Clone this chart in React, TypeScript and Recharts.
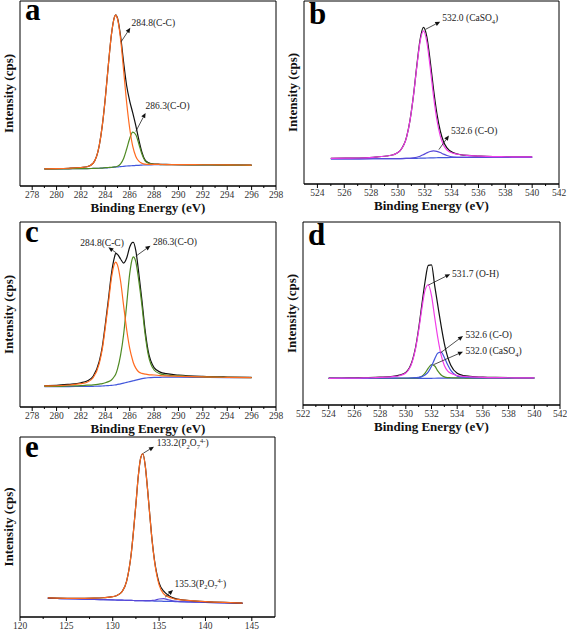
import React from "react";
import { LineChart, Line, XAxis, YAxis, ReferenceArea, ReferenceLine, ReferenceDot } from "recharts";

const SERIF = '"Liberation Serif", "DejaVu Serif", "Noto Serif", Tinos, serif';

// colours used by the fitted components
const BLACK = "#111111";
const ORANGE = "#ff6a1f";
const GREEN = "#4f8a23";
const BLUE = "#4257dc";
const VIOLET = "#5848d8";
const MAGENTA = "#f03ce8";

// ---- a: C 1s ----
const energyA = [279, 280, 281, 282, 282.5, 283, 283.5, 283.75, 284, 284.25, 284.5, 284.75, 284.85, 285, 285.25, 285.5, 285.75, 286, 286.25, 286.5, 286.75, 287, 287.25, 287.5, 288, 288.5, 289, 290, 292, 294, 296];
const bgA = [9.2, 9.2, 9.3, 9.4, 9.4, 9.5, 9.6, 9.7, 9.8, 9.9, 10.0, 10.2, 10.25, 10.3, 10.5, 10.6, 10.8, 10.9, 11.0, 11.1, 11.2, 11.3, 11.4, 11.4, 11.5, 11.5, 11.5, 11.5, 11.4, 11.3, 11.2];
const ccA = [9.3, 9.4, 9.6, 10.0, 10.4, 12.3, 21.8, 32.6, 47.6, 65.5, 81.8, 91.3, 92.4, 90.3, 79.5, 62.5, 45.0, 31.1, 21.4, 16.0, 13.4, 12.3, 11.8, 11.7, 11.7, 11.65, 11.6, 11.6, 11.5, 11.4, 11.3];
const coA = [9.2, 9.2, 9.3, 9.4, 9.4, 9.5, 9.6, 9.7, 9.9, 10.0, 10.1, 10.3, 10.4, 10.7, 12.0, 14.9, 20.0, 25.7, 29.1, 27.7, 22.7, 17.3, 13.7, 12.4, 11.7, 11.6, 11.55, 11.5, 11.4, 11.3, 11.2];
const sumA = [9.3, 9.4, 9.6, 10.0, 10.4, 12.3, 21.8, 32.6, 47.7, 65.6, 81.9, 91.4, 92.55, 90.7, 81.0, 66.8, 54.2, 45.9, 39.5, 32.6, 24.9, 18.3, 14.1, 12.7, 11.9, 11.75, 11.65, 11.6, 11.5, 11.4, 11.3];

// ---- b: O 1s ----
const energyB = [525, 526.1, 527.1, 528.15, 529.15, 529.65, 530.15, 530.65, 530.9, 531.15, 531.4, 531.65, 531.9, 532.15, 532.4, 532.65, 532.9, 533.15, 533.4, 533.65, 534.15, 534.65, 535.15, 536.15, 537.1, 538.1, 539, 540];
const bgB = [13.7, 13.7, 13.75, 13.8, 13.85, 13.85, 13.9, 13.95, 13.95, 14.0, 14.05, 14.1, 14.15, 14.2, 14.25, 14.3, 14.35, 14.4, 14.4, 14.45, 14.5, 14.55, 14.6, 14.6, 14.6, 14.6, 14.6, 14.6];
const caso4B = [14.0, 14.1, 14.2, 14.6, 15.3, 16.0, 18.1, 25.8, 34.8, 47.8, 63.7, 77.8, 83.7, 77.8, 63.9, 48.1, 35.1, 26.3, 21.2, 18.6, 16.7, 16.0, 15.6, 15.2, 15.0, 14.9, 14.85, 14.8];
const coB = [13.7, 13.7, 13.75, 13.8, 13.85, 13.85, 13.9, 14.0, 14.05, 14.25, 14.6, 15.2, 16.05, 17.0, 17.75, 18.1, 17.85, 17.2, 16.3, 15.55, 14.75, 14.6, 14.6, 14.6, 14.6, 14.6, 14.6, 14.6];
const sumB = [14.0, 14.1, 14.2, 14.6, 15.3, 16.0, 18.1, 25.85, 34.9, 48.0, 64.3, 78.9, 85.6, 80.6, 67.4, 51.9, 38.6, 29.1, 23.1, 19.7, 17.0, 16.1, 15.6, 15.2, 15.0, 14.9, 14.85, 14.8];

// ---- c: C 1s ----
const energyC = [279, 280, 281, 282, 282.5, 283, 283.5, 283.75, 284, 284.25, 284.5, 284.75, 284.85, 285, 285.25, 285.5, 285.75, 286, 286.25, 286.3, 286.5, 286.75, 287, 287.25, 287.5, 288, 288.5, 289, 290, 292, 294, 296];
const bgC = [11.0, 11.0, 11.05, 11.1, 11.15, 11.2, 11.3, 11.35, 11.5, 11.6, 11.7, 11.9, 12.0, 12.2, 12.5, 12.9, 13.3, 13.7, 14.1, 14.2, 14.5, 14.9, 15.3, 15.6, 15.8, 16.0, 16.05, 16.1, 16.1, 16.0, 15.9, 15.8];
const ccC = [11.4, 11.5, 11.9, 12.6, 13.4, 15.8, 23.5, 31.25, 43.1, 56.0, 69.6, 77.4, 78.3, 76.7, 68.1, 54.8, 41.9, 31.7, 25.0, 23.9, 21.0, 18.9, 18.15, 17.8, 17.5, 17.3, 17.0, 16.8, 16.6, 16.25, 16.05, 15.9];
const coC = [11.2, 11.2, 11.4, 11.6, 11.8, 12.0, 12.4, 12.65, 13.1, 13.7, 14.6, 16.6, 17.7, 20.6, 28.0, 39.2, 55.4, 72.1, 80.8, 81.2, 78.5, 68.0, 55.0, 40.0, 29.0, 20.0, 17.9, 17.3, 16.8, 16.3, 16.05, 15.9];
const sumC = [11.6, 11.7, 12.25, 13.1, 14.05, 16.6, 24.6, 32.55, 44.7, 58.1, 72.0, 81.0, 83.0, 82.5, 80.0, 77.8, 80.5, 86.5, 89.0, 89.0, 84.5, 72.0, 57.85, 42.2, 30.7, 21.3, 18.85, 18.0, 17.3, 16.55, 16.2, 16.0];

// ---- d: O 1s ----
const energyD = [524, 525, 526, 527, 528, 529, 529.5, 530, 530.5, 530.75, 531, 531.25, 531.5, 531.75, 532, 532.25, 532.5, 532.75, 533, 533.25, 533.5, 534, 534.5, 535, 536, 537, 538, 539, 540];
const bgD = [14.5, 14.5, 14.5, 14.5, 14.5, 14.5, 14.5, 14.5, 14.5, 14.5, 14.5, 14.52, 14.55, 14.58, 14.6, 14.63, 14.65, 14.68, 14.7, 14.7, 14.7, 14.7, 14.7, 14.7, 14.7, 14.7, 14.7, 14.7, 14.7];
const ohD = [14.6, 14.7, 14.7, 14.85, 15.05, 15.5, 16.0, 17.5, 23.6, 30.4, 40.7, 52.7, 62.8, 65.7, 59.8, 47.8, 36.35, 27.25, 21.6, 18.7, 17.3, 16.1, 15.6, 15.4, 15.1, 14.95, 14.9, 14.85, 14.8];
const coD = [14.55, 14.55, 14.6, 14.6, 14.65, 14.7, 14.75, 14.75, 14.85, 14.95, 15.1, 15.5, 16.35, 18.1, 21.2, 25.2, 28.4, 28.85, 26.0, 22.1, 18.9, 15.8, 15.15, 15.0, 14.85, 14.8, 14.75, 14.75, 14.75];
const caso4D = [14.5, 14.5, 14.5, 14.5, 14.5, 14.5, 14.55, 14.6, 14.7, 14.8, 15.0, 15.7, 17.4, 20.1, 22.1, 21.3, 18.5, 16.4, 15.4, 15.0, 14.9, 14.8, 14.75, 14.7, 14.7, 14.7, 14.7, 14.7, 14.7];
const sumD = [14.65, 14.75, 14.8, 14.95, 15.2, 15.7, 16.3, 17.85, 24.15, 31.15, 41.8, 54.9, 67.5, 76.3, 76.6, 65.1, 54.05, 43.2, 33.6, 26.4, 21.7, 17.3, 16.1, 15.7, 15.25, 15.05, 14.95, 14.85, 14.8];

// ---- e: P 2p ----
const energyE = [123, 124, 126, 128, 129, 130, 130.5, 131, 131.5, 132, 132.25, 132.5, 132.75, 133, 133.25, 133.5, 133.75, 134, 134.25, 134.5, 135, 135.5, 136, 136.5, 137, 138, 139, 140, 142, 144];
const bgE = [10.4, 10.27, 10.0, 9.73, 9.6, 9.47, 9.4, 9.33, 9.27, 9.2, 9.17, 9.13, 9.1, 9.07, 9.03, 9.0, 8.97, 8.93, 8.9, 8.87, 8.8, 8.73, 8.67, 8.6, 8.53, 8.4, 8.27, 8.13, 7.87, 7.6];
const p133E = [10.6, 10.5, 10.4, 10.5, 10.7, 11.3, 12.1, 14.1, 19.9, 35.4, 48.3, 62.7, 77.9, 88.0, 90.7, 84.3, 71.2, 56.4, 42.1, 31.2, 17.8, 12.9, 11.2, 10.3, 9.8, 9.26, 8.87, 8.56, 8.1, 7.76];
const p135E = [10.4, 10.27, 10.0, 9.73, 9.6, 9.47, 9.4, 9.33, 9.27, 9.2, 9.17, 9.13, 9.1, 9.07, 9.05, 9.05, 9.05, 9.08, 9.2, 9.32, 10.0, 10.18, 9.57, 8.95, 8.65, 8.43, 8.27, 8.13, 7.87, 7.6];
const sumE = [10.6, 10.5, 10.4, 10.5, 10.7, 11.3, 12.1, 14.1, 19.9, 35.4, 48.3, 62.7, 77.9, 88.0, 90.7, 84.35, 71.3, 56.55, 42.4, 31.65, 19.0, 14.35, 12.1, 10.65, 9.9, 9.3, 8.87, 8.56, 8.1, 7.76];

// tick labels
const ticksC1s = [278, 280, 282, 284, 286, 288, 290, 292, 294, 296, 298];
const ticksB = [524, 526, 528, 530, 532, 534, 536, 538, 540, 542];
const ticksD = [522, 524, 526, 528, 530, 532, 534, 536, 538, 540, 542];
const ticksE = [120, 125, 130, 135, 140, 145];

type Seg = { t: string; sub?: boolean; sup?: boolean };
type Note = { from: [number, number]; to: [number, number]; at: [number, number]; text: Seg[] };
type Series = { key: string; values: number[]; color: string };

const P2O7 = (head: string): Seg[] => [{ t: head + "(P" }, { t: "2", sub: true }, { t: "O" }, { t: "7", sub: true }, { t: "4-", sup: true }, { t: ")" }];
const CASO4 = (head: string): Seg[] => [{ t: head + " (CaSO" }, { t: "4", sub: true }, { t: ")" }];

function renderSegs(segs: Seg[]) {
  let cur = 0;
  return segs.map((s, i) => {
    const target = s.sub ? 2.5 : s.sup ? -3.5 : 0;
    const dy = target - cur;
    cur = target;
    return (
      <tspan key={i} dy={dy} fontSize={s.sub || s.sup ? 6.5 : undefined}>
        {s.t}
      </tspan>
    );
  });
}

const arrowShape = (p: any) => {
  const { x1, y1, x2, y2 } = p;
  const ang = Math.atan2(y2 - y1, x2 - x1);
  const len = 5;
  const half = 2.2;
  const bx = x2 - len * Math.cos(ang);
  const by = y2 - len * Math.sin(ang);
  const nx = -Math.sin(ang) * half;
  const ny = Math.cos(ang) * half;
  return (
    <g>
      <line x1={x1} y1={y1} x2={bx} y2={by} stroke="#222" strokeWidth={0.8} />
      <polygon points={`${x2},${y2} ${bx + nx},${by + ny} ${bx - nx},${by - ny}`} fill="#111" />
    </g>
  );
};

interface PanelProps {
  letter: string;
  letterDy: number;
  colLeft: number;
  left: number;
  top: number;
  width: number;
  height: number;
  domain: [number, number];
  majors: number[];
  minors: number[];
  energies: number[];
  series: Series[];
  notes: Note[];
  title?: boolean;
}

const T = 12;
const R = 8;
const H = 34;

function Panel(props: PanelProps) {
  const { letter, letterDy, colLeft, left, top, width, height, domain, majors, minors, energies, series, notes, title = true } = props;
  const W = left - colLeft;
  const rows = energies.map((e, i) => {
    const row: Record<string, number> = { e };
    series.forEach((s) => (row[s.key] = s.values[i]));
    return row;
  });
  const allTicks = [...majors, ...minors].sort((a, b) => a - b);

  const tick = (p: any) => {
    const { x, y, payload } = p;
    const major = majors.includes(payload.value);
    return (
      <g>
        <line x1={x} x2={x} y1={y} y2={y + (major ? 4 : 2)} stroke="#000" strokeWidth={1} />
        {major && (
          <text x={x} y={y + 12} textAnchor="middle" fontSize={9.5} fill="#333" style={{ fontFamily: SERIF }}>
            {payload.value}
          </text>
        )}
      </g>
    );
  };

  return (
    <div style={{ position: "absolute", left: colLeft, top: top - T }}>
      <LineChart width={W + width + R} height={T + height + H} data={rows} margin={{ top: T, right: R, bottom: 0, left: 0 }}>
        <XAxis
          dataKey="e"
          type="number"
          domain={domain}
          allowDataOverflow
          ticks={allTicks}
          interval={0}
          tickSize={0}
          tickMargin={0}
          tickLine={false}
          tick={tick}
          height={H}
          axisLine={{ stroke: "#000", strokeWidth: 1 }}
          label={
            title
              ? {
                  content: ({ viewBox }: any) => (
                    <text
                      x={viewBox.x + viewBox.width / 2}
                      y={viewBox.y + 26}
                      textAnchor="middle"
                      fontSize={13}
                      fontWeight="bold"
                      fill="#111"
                      style={{ fontFamily: SERIF }}
                    >
                      Binding Energy (eV)
                    </text>
                  ),
                }
              : undefined
          }
        />
        <YAxis
          type="number"
          domain={[0, 100]}
          width={W}
          tick={false}
          tickLine={false}
          axisLine={false}
          label={{
            content: ({ viewBox }: any) => {
              const cx = viewBox.x + viewBox.width - 12;
              const cy = viewBox.y + viewBox.height / 2;
              return (
                <text
                  x={cx}
                  y={cy}
                  transform={`rotate(-90, ${cx}, ${cy})`}
                  textAnchor="middle"
                  dominantBaseline="central"
                  fontSize={13}
                  fontWeight="bold"
                  fill="#111"
                  style={{ fontFamily: SERIF }}
                >
                  Intensity (cps)
                </text>
              );
            },
          }}
        />
        <ReferenceArea x1={domain[0]} x2={domain[1]} y1={0} y2={100} fill="none" fillOpacity={0} stroke="#000" strokeWidth={1} />
        {series.map((s) => (
          <Line
            key={s.key}
            dataKey={s.key}
            type="monotone"
            stroke={s.color}
            strokeWidth={1.2}
            dot={false}
            activeDot={false}
            isAnimationActive={false}
          />
        ))}
        {notes.map((n, i) => (
          <ReferenceLine
            key={"l" + i}
            segment={[
              { x: n.from[0], y: n.from[1] },
              { x: n.to[0], y: n.to[1] },
            ]}
            shape={arrowShape}
            ifOverflow="visible"
          />
        ))}
        {notes.map((n, i) => (
          <ReferenceDot
            key={"t" + i}
            x={n.at[0]}
            y={n.at[1]}
            r={1}
            ifOverflow="visible"
            shape={(p: any) => (
              <text x={p.cx} y={p.cy} dominantBaseline="central" fontSize={9.5} fill="#222" style={{ fontFamily: SERIF }}>
                {renderSegs(n.text)}
              </text>
            )}
          />
        ))}
        <ReferenceDot
          x={domain[0]}
          y={100}
          r={1}
          ifOverflow="visible"
          shape={(p: any) => (
            <text x={p.cx + 5} y={p.cy + letterDy} fontSize={31} fontWeight="bold" fill="#000" style={{ fontFamily: SERIF }}>
              {letter}
            </text>
          )}
        />
      </LineChart>
    </div>
  );
}

export default function App() {
  return (
    <div style={{ position: "absolute", left: 0, top: 0, width: 567, height: 635, overflow: "hidden", background: "#fff" }}>
      <Panel
        letter="a"
        letterDy={19}
        colLeft={0}
        left={20}
        top={1}
        width={256}
        height={185}
        domain={[277, 298]}
        majors={ticksC1s}
        minors={[279, 281, 283, 285, 287, 289, 291, 293, 295, 297]}
        energies={energyA}
        series={[
          { key: "bg", values: bgA, color: BLUE },
          { key: "sum", values: sumA, color: BLACK },
          { key: "co", values: coA, color: GREEN },
          { key: "cc", values: ccA, color: ORANGE },
        ]}
        notes={[
          { from: [285.3, 78], to: [286.05, 85.5], at: [286.15, 88], text: [{ t: "284.8(C-C)" }] },
          { from: [286.5, 29.5], to: [287.3, 39.5], at: [287.3, 43], text: [{ t: "286.3(C-O)" }] },
        ]}
      />
      <Panel
        letter="b"
        letterDy={23}
        colLeft={280}
        left={304}
        top={1}
        width={255}
        height={183}
        domain={[523, 542]}
        majors={ticksB}
        minors={[525, 527, 529, 531, 533, 535, 537, 539, 541]}
        energies={energyB}
        series={[
          { key: "bg", values: bgB, color: BLUE },
          { key: "sum", values: sumB, color: BLACK },
          { key: "co", values: coB, color: VIOLET },
          { key: "caso4", values: caso4B, color: MAGENTA },
        ]}
        notes={[
          { from: [532.05, 84.5], to: [533.15, 88.7], at: [533.3, 90.5], text: CASO4("532.0") },
          { from: [533.05, 18.8], to: [533.8, 26.5], at: [533.95, 29.2], text: [{ t: "532.6 (C-O)" }] },
        ]}
      />
      <Panel
        letter="c"
        letterDy={20}
        colLeft={0}
        left={20}
        top={222}
        width={256}
        height={185}
        domain={[277, 298]}
        majors={ticksC1s}
        minors={[279, 281, 283, 285, 287, 289, 291, 293, 295, 297]}
        energies={energyC}
        series={[
          { key: "bg", values: bgC, color: BLUE },
          { key: "sum", values: sumC, color: BLACK },
          { key: "co", values: coC, color: GREEN },
          { key: "cc", values: ccC, color: ORANGE },
        ]}
        notes={[
          { from: [284.9, 83.3], to: [284.25, 86.3], at: [281.95, 88.5], text: [{ t: "284.8(C-C)" }] },
          { from: [286.5, 81.5], to: [287.7, 87.2], at: [287.9, 89.4], text: [{ t: "286.3(C-O)" }] },
        ]}
      />
      <Panel
        letter="d"
        letterDy={23}
        colLeft={280}
        left={303}
        top={222}
        width={257}
        height={183}
        domain={[522, 542]}
        majors={ticksD}
        minors={[523, 525, 527, 529, 531, 533, 535, 537, 539, 541]}
        energies={energyD}
        series={[
          { key: "bg", values: bgD, color: BLUE },
          { key: "sum", values: sumD, color: BLACK },
          { key: "caso4", values: caso4D, color: GREEN },
          { key: "co", values: coD, color: BLUE },
          { key: "oh", values: ohD, color: MAGENTA },
        ]}
        notes={[
          { from: [531.75, 65.5], to: [533.45, 71.5], at: [533.6, 71.5], text: [{ t: "531.7 (O-H)" }] },
          { from: [532.7, 28.5], to: [534.45, 37.7], at: [534.65, 38], text: [{ t: "532.6 (C-O)" }] },
          { from: [532.15, 22], to: [534.45, 29.1], at: [534.65, 29.5], text: CASO4("532.0") },
        ]}
      />
      <Panel
        letter="e"
        letterDy={20}
        colLeft={0}
        left={20}
        top={437}
        width={255}
        height={180}
        domain={[120, 147.5]}
        majors={ticksE}
        minors={[122.5, 127.5, 132.5, 137.5, 142.5]}
        energies={energyE}
        title={false}
        series={[
          { key: "bg", values: bgE, color: BLUE },
          { key: "p135", values: p135E, color: VIOLET },
          { key: "sum", values: sumE, color: BLACK },
          { key: "p133", values: p133E, color: ORANGE },
        ]}
        notes={[
          { from: [133.3, 91], to: [134.45, 94.6], at: [134.75, 96.5], text: P2O7("133.2") },
          { from: [135.65, 11], to: [136.5, 15], at: [136.65, 18.5], text: P2O7("135.3") },
        ]}
      />
    </div>
  );
}
